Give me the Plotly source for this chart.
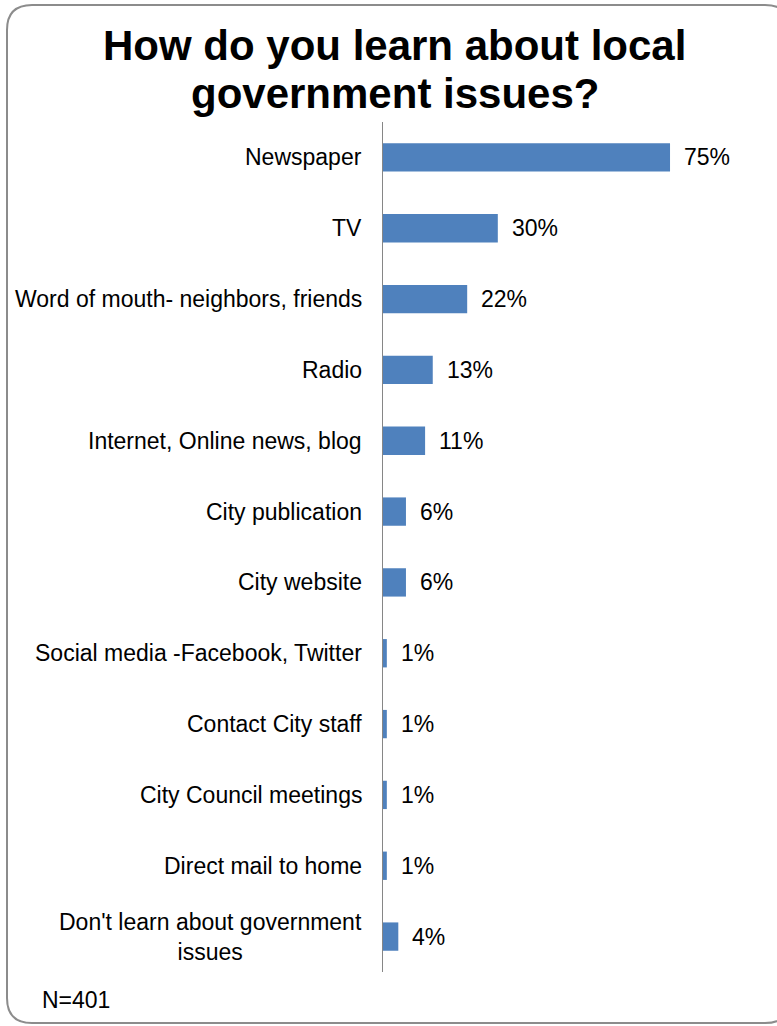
import plotly.graph_objects as go

W, H = 777, 1026

categories = [
    "Newspaper",
    "TV",
    "Word of mouth- neighbors, friends",
    "Radio",
    "Internet, Online news, blog",
    "City publication",
    "City website",
    "Social media -Facebook, Twitter",
    "Contact City staff",
    "City Council meetings",
    "Direct mail to home",
    "Don't learn about government<br>issues",
]
values = [75, 30, 22, 13, 11, 6, 6, 1, 1, 1, 1, 4]
value_labels = ["75%", "30%", "22%", "13%", "11%", "6%", "6%", "1%", "1%", "1%", "1%", "4%"]
title_lines = ["How do you learn about local", "government issues?"]
note = "N=401"

FONT = "Liberation Sans, Arial, sans-serif"
BAR = "#4f81bd"
LABEL_SIZE = 23


def px(x):
    return x / W


def py(y):
    return 1 - y / H


fig = go.Figure()
fig.add_trace(go.Bar(
    x=values,
    y=list(range(len(categories))),
    orientation="h",
    marker=dict(color=BAR, line=dict(width=0)),
    hoverinfo="skip",
))

annotations = []
# category labels to the left of the axis; wrapped labels are centred
for i, c in enumerate(categories):
    annotations.append(dict(
        x=px(364), xref="paper", y=i, yref="y",
        text=c, showarrow=False, xanchor="right", yanchor="middle",
        align="center", font=dict(family=FONT, size=LABEL_SIZE, color="#000000"),
    ))
# value labels past the end of each bar
for i, (v, t) in enumerate(zip(values, value_labels)):
    annotations.append(dict(
        x=v, xref="x", y=i, yref="y", text=t, showarrow=False,
        xanchor="left", yanchor="middle", xshift=12,
        font=dict(family=FONT, size=LABEL_SIZE, color="#000000"),
    ))
# two-line bold title
for t, yc in zip(title_lines, [46, 94]):
    annotations.append(dict(
        x=px(395), xref="paper", y=py(yc), yref="paper", text="<b>%s</b>" % t,
        showarrow=False, xanchor="center", yanchor="middle",
        font=dict(family=FONT, size=42, color="#000000"),
    ))
annotations.append(dict(
    x=px(40), xref="paper", y=py(1000), yref="paper", text=note,
    showarrow=False, xanchor="left", yanchor="middle",
    font=dict(family=FONT, size=LABEL_SIZE, color="#000000"),
))

# rounded frame around the whole chart
x0, y0, x1, y1, r = 7, 5, 790, 1023, 25
path = (
    f"M {px(x0 + r)} {py(y0)} L {px(x1 - r)} {py(y0)} "
    f"Q {px(x1)} {py(y0)} {px(x1)} {py(y0 + r)} "
    f"L {px(x1)} {py(y1 - r)} Q {px(x1)} {py(y1)} {px(x1 - r)} {py(y1)} "
    f"L {px(x0 + r)} {py(y1)} Q {px(x0)} {py(y1)} {px(x0)} {py(y1 - r)} "
    f"L {px(x0)} {py(y0 + r)} Q {px(x0)} {py(y0)} {px(x0 + r)} {py(y0)} Z"
)

fig.update_layout(
    width=W, height=H,
    margin=dict(l=0, r=0, t=0, b=0),
    paper_bgcolor="white", plot_bgcolor="white",
    showlegend=False,
    bargap=0.6,
    annotations=annotations,
    shapes=[dict(type="path", path=path, xref="paper", yref="paper",
                 line=dict(color="#8c8c8c", width=2), fillcolor="rgba(0,0,0,0)")],
    xaxis=dict(domain=[px(383), px(383) + 100 * 3.827 / W], range=[0, 100],
               visible=False, fixedrange=True),
    yaxis=dict(domain=[py(972), py(122)], range=[len(categories) - 0.5, -0.5],
               showticklabels=False, showgrid=False, zeroline=False,
               showline=True, linecolor="#868686", linewidth=1, ticks="",
               fixedrange=True),
)

fig.write_html("out.html")
